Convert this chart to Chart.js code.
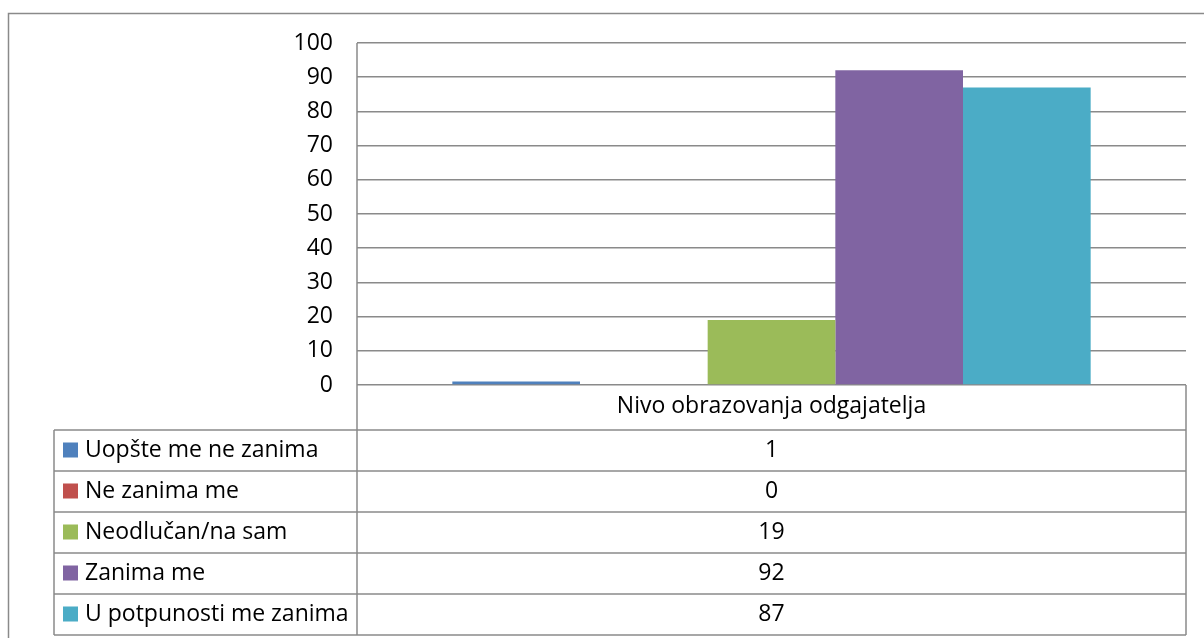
<!DOCTYPE html>
<html>
<head>
<meta charset="utf-8">
<script src="https://cdn.jsdelivr.net/npm/chart.js@4"></script>
<style>
    html, body { margin: 0; padding: 0; background: #fff; }
    #wrap { width: 1204px; height: 638px; }
</style>
</head>
<body>
<div id="wrap"><canvas id="chart" width="1204" height="638"></canvas></div>
<script>
// podaci
const categories = ["Nivo obrazovanja odgajatelja"];
const seriesNames = ["Uopšte me ne zanima", "Ne zanima me", "Neodlučan/na sam", "Zanima me", "U potpunosti me zanima"];
const seriesValues = [1, 0, 19, 92, 87];
const seriesColors = ["#4F81BD", "#C0504D", "#9BBB59", "#8064A2", "#4BACC6"];
const yTicks = [0, 10, 20, 30, 40, 50, 60, 70, 80, 90, 100];

const FONT = "'Open Sans'";
const FONT_SIZE = 23;
const LINE = "#8a8a8a";

// tablica podataka ispod grafa
const dataTablePlugin = {
    id: "dataTable",
    afterDraw(chart) {
        const ctx = chart.ctx;
        const area = chart.chartArea;
        const tableLeft = 54;
        const headerBottom = area.bottom + 45;
        const rowH = 41;

        ctx.save();
        ctx.strokeStyle = LINE;
        ctx.lineWidth = 1.5;

        // okvir grafa
        ctx.strokeRect(8.5, 13.5, 1210, 640);

        // vertikalne linije
        ctx.beginPath();
        ctx.moveTo(area.left, area.top);
        ctx.lineTo(area.left, headerBottom + rowH * seriesNames.length);
        ctx.moveTo(area.right, area.bottom);
        ctx.lineTo(area.right, headerBottom + rowH * seriesNames.length);
        ctx.moveTo(tableLeft, headerBottom);
        ctx.lineTo(tableLeft, headerBottom + rowH * seriesNames.length);
        // horizontalne linije
        for (let i = 0; i <= seriesNames.length; i++) {
            const y = headerBottom + rowH * i;
            ctx.moveTo(tableLeft, y);
            ctx.lineTo(area.right, y);
        }
        ctx.stroke();

        ctx.font = FONT_SIZE + "px " + FONT;
        ctx.textBaseline = "middle";
        ctx.fillStyle = "#000";
        const xScale = chart.scales.x;
        const cx = xScale.getPixelForValue(0);

        seriesNames.forEach((name, i) => {
            const y = headerBottom + rowH * i + rowH / 2;
            ctx.fillStyle = seriesColors[i];
            ctx.fillRect(63, y - 8, 15, 15);
            ctx.fillStyle = "#000";
            ctx.textAlign = "left";
            ctx.fillText(name, 85, y);
            ctx.textAlign = "center";
            ctx.fillText(String(seriesValues[i]), cx, y);
        });
        ctx.restore();
    }
};

const datasets = seriesNames.map((name, i) => ({
    label: name,
    data: [seriesValues[i]],
    backgroundColor: seriesColors[i],
    borderWidth: 0,
    categoryPercentage: 0.77,
    barPercentage: 1
}));

new Chart(document.getElementById("chart"), {
    type: "bar",
    data: { labels: categories, datasets: datasets },
    options: {
        responsive: false,
        animation: false,
        events: [],
        layout: { padding: { left: 0, top: 43, right: 18, bottom: 0 } },
        plugins: {
            legend: { display: false },
            tooltip: { enabled: false }
        },
        scales: {
            x: {
                grid: { display: false, drawTicks: false },
                border: { display: false },
                ticks: {
                    color: "#000",
                    font: { family: FONT, size: FONT_SIZE },
                    padding: 8
                },
                afterFit(scale) { scale.height = 253; }
            },
            y: {
                min: 0,
                max: 100,
                afterBuildTicks(scale) { scale.ticks = yTicks.map(v => ({ value: v })); },
                grid: { color: LINE, lineWidth: 1.5, drawTicks: false },
                border: { display: false },
                ticks: {
                    color: "#000",
                    font: { family: FONT, size: FONT_SIZE },
                    padding: 24
                },
                afterFit(scale) { scale.width = 357; }
            }
        }
    },
    plugins: [dataTablePlugin]
});
</script>
</body>
</html>
